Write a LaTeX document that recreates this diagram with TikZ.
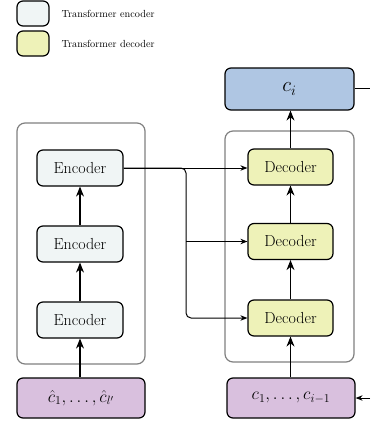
\documentclass[tikz,border=0pt]{standalone}
\usetikzlibrary{arrows.meta,calc}
\definecolor{encfill}{HTML}{F0F5F5}
\definecolor{decfill}{HTML}{EEF2B8}
\definecolor{outfill}{HTML}{AFC6E3}
\definecolor{infill}{HTML}{D9C0DE}
\definecolor{groupgray}{HTML}{808080}
\tikzset{
  blk/.style={draw=black, line width=1.2pt, rounded corners=6pt, inner sep=0pt},
  encbox/.style={blk, fill=encfill, minimum width=86pt, minimum height=36pt, font=\fontsize{16}{18}\selectfont},
  decbox/.style={blk, fill=decfill, minimum width=85pt, minimum height=36pt, font=\fontsize{16}{18}\selectfont},
  outbox/.style={blk, fill=outfill, minimum width=129pt, minimum height=42pt, font=\fontsize{22}{24}\selectfont},
  inbox/.style={blk, fill=infill, minimum width=128pt, minimum height=40pt, font=\fontsize{17.5}{20}\selectfont},
  groupbox/.style={draw=groupgray, line width=1.2pt, rounded corners=8pt, inner sep=0pt},
  legbox/.style={blk, minimum width=32pt, minimum height=25pt},
  legtext/.style={anchor=west, font=\fontsize{10.3}{12}\selectfont},
  bigarrow/.style={line width=1.1pt, -{Stealth[length=10pt,width=8pt]}},
  smallarrow/.style={line width=1pt, -{Stealth[length=7pt,width=5.5pt]}},
  plainline/.style={line width=1pt},
}
\begin{document}
\begin{tikzpicture}[x=1pt,y=-1pt]
\useasboundingbox (0,0) rectangle (370,423);
% legend
\node[legbox, fill=encfill] (legenc) at (33,13.5) {};
\node[legbox, fill=decfill] (legdec) at (33,43.5) {};
\node[legtext] (legenctext) at (58,14) {Transformer encoder};
\node[legtext] (legdectext) at (58,44) {Transformer decoder};
% groups
\node[groupbox, minimum width=128pt, minimum height=241pt] (encgroup) at (81,243.5) {};
\node[groupbox, minimum width=129pt, minimum height=231pt] (decgroup) at (289.5,246.5) {};
% encoders
\node[encbox] (e1) at (80,320) {Encoder};
\node[encbox] (e2) at (80,244) {Encoder};
\node[encbox] (e3) at (80,168) {Encoder};
% decoders
\node[decbox] (d1) at (290.5,318) {Decoder};
\node[decbox] (d2) at (290.5,241.5) {Decoder};
\node[decbox] (d3) at (290.5,167) {Decoder};
% output and inputs
\node[outbox] (out) at (289.5,89) {$c_i$};
\node[inbox] (inenc) at (81,398) {$\hat{c}_1,\ldots,\hat{c}_{l'}$};
\node[inbox] (indec) at (291,398) {$c_1,\ldots,c_{i-1}$};
% free ends
\coordinate (outright) at (370,88);
\coordinate (inright) at (370,398);
\coordinate (br) at (186,168);
% vertical arrows
\draw[bigarrow] (inenc.north -| e1.south) -- (e1.south);
\draw[bigarrow] (e1.north) -- (e2.south);
\draw[bigarrow] (e2.north) -- (e3.south);
\draw[bigarrow] (indec.north -| d1.south) -- (d1.south);
\draw[bigarrow] (d1.north) -- (d2.south);
\draw[bigarrow] (d2.north) -- (d3.south);
\draw[bigarrow] (d3.north) -- (d3.north |- out.south);
% encoder to decoders
\draw[smallarrow] (e3.east) -- (e3.east -| d3.west);
\draw[smallarrow, rounded corners=5pt] (e3.east) -- (br) |- (d1.west);
\draw[smallarrow] (br |- d2.west) -- (d2.west);
% side lines
\draw[plainline] (out.east |- outright) -- (outright);
\draw[smallarrow] (inright) -- (indec.east);
\end{tikzpicture}
\end{document}
